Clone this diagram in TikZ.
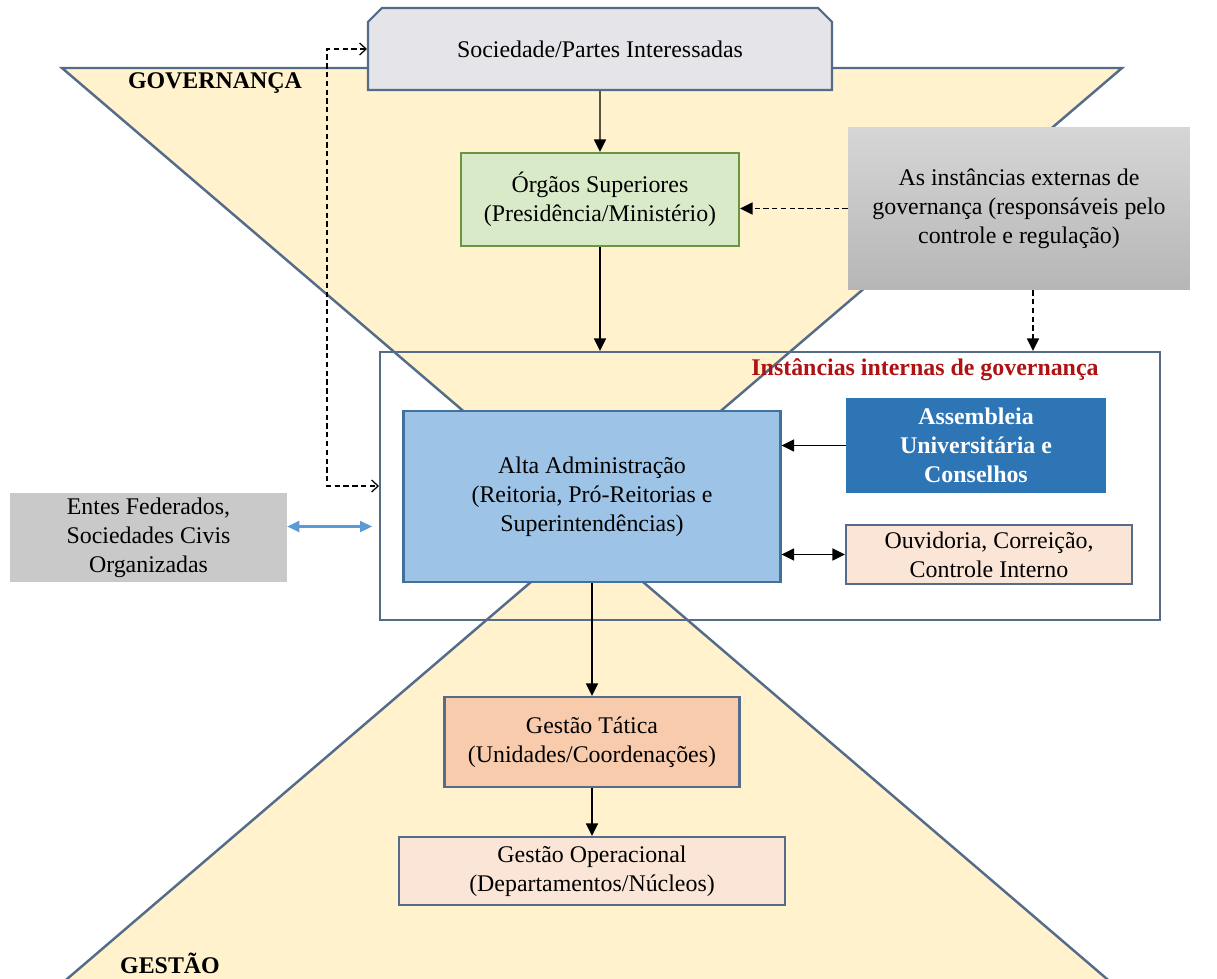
\documentclass[tikz,border=0pt]{standalone}
\usepackage{fontspec}
\setmainfont{Liberation Serif}
\usetikzlibrary{arrows.meta,shapes.misc,positioning}

\definecolor{areia}{RGB}{255,242,204}
\definecolor{contorno}{RGB}{84,108,138}
\definecolor{cinzaclaro}{RGB}{228,228,233}
\definecolor{verdeclaro}{RGB}{216,234,200}
\definecolor{verdeborda}{RGB}{106,150,62}
\definecolor{azulclaro}{RGB}{157,195,230}
\definecolor{azulborda}{RGB}{65,113,156}
\definecolor{azulforte}{RGB}{46,117,182}
\definecolor{pessego}{RGB}{251,229,214}
\definecolor{laranja}{RGB}{248,203,173}
\definecolor{cinzamedio}{RGB}{201,201,201}
\definecolor{vermelho}{RGB}{175,18,18}
\definecolor{azulseta}{RGB}{91,155,213}

\begin{document}
\begin{tikzpicture}[x=0.02cm, y=-0.02cm,
			triangulo/.style={fill=areia, draw=contorno, line width=1.4pt, line join=miter},
			caixa/.style={rectangle, draw=contorno, line width=1.2pt, inner sep=0pt, align=center,
				font=\fontsize{13.6}{16.4}\selectfont},
			chapada/.style={rectangle, draw=none, inner sep=0pt, align=center,
				font=\fontsize{13.6}{16.4}\selectfont},
			moldura/.style={rectangle, draw=contorno, line width=1.2pt, inner sep=0pt},
			rotulo/.style={font=\fontsize{13.6}{16.4}\selectfont\bfseries},
			seta/.style={line width=0.8pt, -{Triangle[length=0.25cm,width=0.24cm]}},
			setadupla/.style={line width=0.8pt, {Triangle[length=0.25cm,width=0.24cm]}-{Triangle[length=0.25cm,width=0.24cm]}},
			tracejada/.style={line width=0.8pt, dash pattern=on 3pt off 2pt},
			aberta/.style={line width=0.7pt, dash pattern=on 3pt off 2pt,
				{Straight Barb[length=0.13cm,width=0.24cm]}-{Straight Barb[length=0.13cm,width=0.24cm]}},
			setaazul/.style={azulseta, line width=1.2pt, {Triangle[length=0.24cm,width=0.22cm]}-{Triangle[length=0.24cm,width=0.22cm]}},
			]
			
			\useasboundingbox (0,0) rectangle (1217,978);
			\clip (0,0) rectangle (1217,978);
			
			%% =========================================================
			%% ampulheta: governança em cima, gestão em baixo
			%% =========================================================
			\draw[triangulo] (62,68) -- (1122,68) -- (592,521) -- cycle;
			\draw[triangulo] (587,534) -- (1114,985) -- (60,985) -- cycle;
			\node[rotulo] (governanca) at (215,83) {GOVERNANÇA};
			\node[rotulo] (gestao) at (170,963) {GESTÃO};
			
			%% quadro das instâncias internas
			\node[moldura, minimum width=15.6cm, minimum height=5.36cm] (moldura) at (770,486) {};
			\node[rotulo, text=vermelho] (internas) at (925,370) {Instâncias internas de governança};
			
			%% ---- caixas ----
			\node[caixa, fill=cinzaclaro, chamfered rectangle, chamfered rectangle corners={north west,north east},
				chamfered rectangle xsep=0.28cm, minimum width=9.28cm, minimum height=1.64cm]
				(soc) at (600,49) {Sociedade/Partes Interessadas};
			\node[caixa, fill=verdeclaro, draw=verdeborda, minimum width=5.56cm, minimum height=1.86cm]
				(org) at (600,199.5) {Órgãos Superiores\\(Presidência/Ministério)};
			\node[chapada, top color={rgb,255:red,214;green,214;blue,214}, bottom color={rgb,255:red,182;green,182;blue,182},
				minimum width=6.84cm, minimum height=3.26cm]
				(ext) at (1019,208.5) {As instâncias externas de\\governança (responsáveis pelo\\controle e regulação)};
			\node[caixa, fill=azulclaro, draw=azulborda, minimum width=7.54cm, minimum height=3.42cm]
				(alta) at (592,496.5) {Alta Administração\\(Reitoria, Pró-Reitorias e\\Superintendências)};
			\node[chapada, fill=azulforte, text=white, font=\fontsize{13.6}{16.4}\selectfont\bfseries,
				minimum width=5.2cm, minimum height=1.9cm]
				(asm) at (976,445.5) {Assembleia\\Universitária e\\Conselhos};
			\node[caixa, fill=pessego, minimum width=5.72cm, minimum height=1.18cm]
				(ouv) at (989,554.5) {Ouvidoria, Correição,\\Controle Interno};
			\node[chapada, fill=cinzamedio, minimum width=5.54cm, minimum height=1.78cm]
				(entes) at (148.5,537.5) {Entes Federados,\\Sociedades Civis\\Organizadas};
			\node[caixa, fill=laranja, minimum width=5.9cm, minimum height=1.8cm]
				(tat) at (592,742) {Gestão Tática\\(Unidades/Coordenações)};
			\node[caixa, fill=pessego, minimum width=7.72cm, minimum height=1.36cm]
				(op) at (592,871) {Gestão Operacional\\(Departamentos/Núcleos)};
			
			%% ---- ligações ----
			\draw[seta] (soc) -- (org);
			\draw[seta] (org) -- (org.south |- moldura.north);
			\draw[seta, tracejada] (ext.west) -- (ext.west -| org.east);
			\draw[seta, tracejada] ([xshift=0.28cm]ext.south) -- ([xshift=0.28cm]ext.south |- moldura.north);
			\draw[seta] (asm.west) -- (asm.west -| alta.east);
			\draw[setadupla] (ouv.west) -- (ouv.west -| alta.east);
			\draw[aberta] (soc.west) -- ++(-40,0) |- (moldura.west);
			\coordinate (azul) at ([yshift=0.22cm]entes.east);
			\draw[setaazul] (azul) -- ([xshift=-0.14cm]moldura.west |- azul);
			\draw[seta] (alta) -- (tat);
			\draw[seta] (tat) -- (op);
			
	\end{tikzpicture}
\end{document}
